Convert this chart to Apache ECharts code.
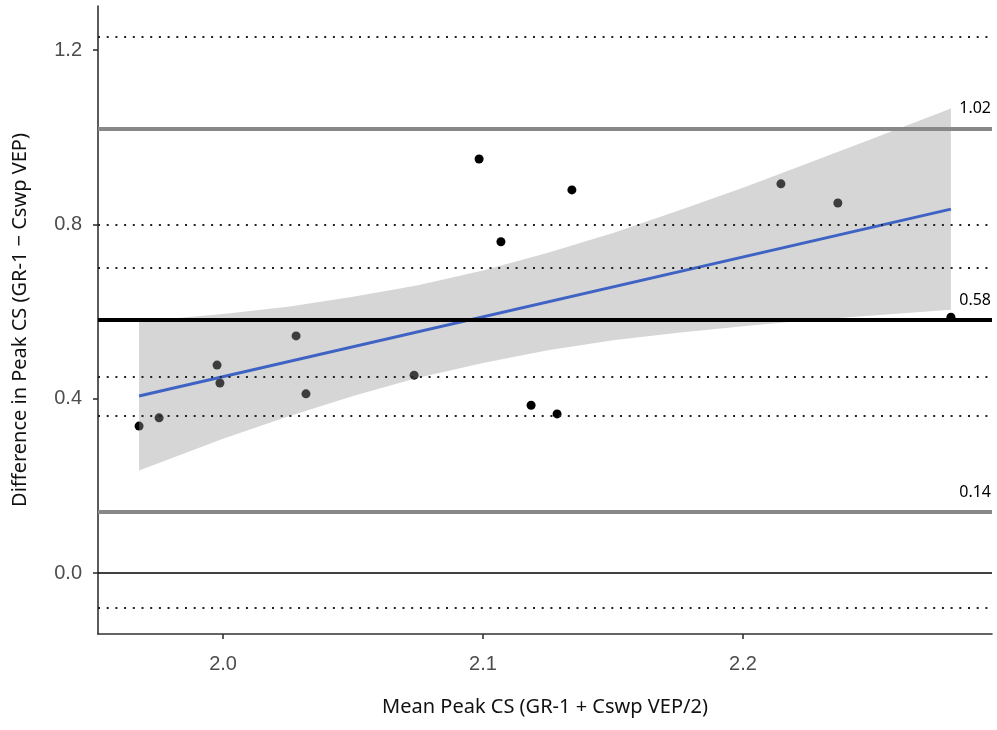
<!DOCTYPE html>
<html>
<head>
<meta charset="utf-8">
<script src="https://cdn.jsdelivr.net/npm/echarts@6/dist/echarts.min.js"></script>
<style>
  html, body { margin: 0; padding: 0; background: #fff; }
  #chart { width: 997px; height: 730px; }
</style>
</head>
<body>
<div id="chart"></div>
<script>
// Bland–Altman style agreement plot: GR-1 vs Cswp VEP peak contrast sensitivity

// Per-subject mean (x) and difference (y)
const meanVals = [1.9677, 1.9754, 1.9977, 1.9988, 2.0281, 2.0319, 2.0735, 2.0985,
                  2.1069, 2.1185, 2.1285, 2.1342, 2.2146, 2.2365, 2.2800];
const diffVals = [0.337, 0.356, 0.477, 0.436, 0.544, 0.411, 0.454, 0.950,
                  0.760, 0.385, 0.365, 0.879, 0.893, 0.849, 0.587];

// Linear trend of difference on mean, with its confidence band
const fitX = [1.9677, 2.2800];
const fitY = [0.406, 0.835];
const bandX = [1.9677, 2.0, 2.025, 2.05, 2.075, 2.1, 2.125, 2.15, 2.175, 2.2, 2.225, 2.25, 2.28];
const bandUpper = [0.577, 0.594, 0.611, 0.634, 0.660, 0.694, 0.735, 0.780, 0.831, 0.884, 0.940, 0.997, 1.066];
const bandLower = [0.235, 0.308, 0.359, 0.406, 0.448, 0.482, 0.511, 0.534, 0.551, 0.566, 0.580, 0.591, 0.604];

// Bias and limits of agreement (labelled), their confidence limits (dotted), zero line
const limitVals = [1.02, 0.14];
const biasVal = 0.58;
const ciVals = [1.2345, 0.80, 0.702, 0.454, 0.358, -0.076];
const zeroVal = 0;

// Axis ticks
const xTicks = [2.0, 2.1, 2.2];
const yTicks = [0.0, 0.4, 0.8, 1.2];

const chart = echarts.init(document.getElementById('chart'), null, { renderer: 'canvas' });

const labelFont = 'Noto Sans';
const axisFont = 'Liberation Sans';

const bandPolygon = bandX.map((x, i) => [x, bandUpper[i]])
  .concat(bandX.slice().reverse().map((x, i) => [x, bandLower[bandX.length - 1 - i]]));

function hLine(v, style) {
  return { yAxis: v, lineStyle: style, label: { show: false } };
}

function valueLabel() {
  return {
    show: true, position: 'insideEndTop', distance: [1, 12],
    formatter: p => p.value.toFixed(2),
    fontFamily: labelFont, fontSize: 16, color: '#000'
  };
}

const option = {
  animation: false,
  backgroundColor: '#ffffff',
  grid: { left: 98, right: 5, top: 6, bottom: 96, containLabel: false },
  xAxis: {
    type: 'value',
    min: 1.9519,
    max: 2.2958,
    name: 'Mean Peak CS (GR-1 + Cswp VEP/2)',
    nameLocation: 'middle',
    nameGap: 63,
    nameTextStyle: { fontFamily: labelFont, fontSize: 20, color: '#111' },
    splitLine: { show: false },
    axisLine: { onZero: false, lineStyle: { color: '#333', width: 1.6 } },
    axisTick: { show: true, length: 5, customValues: xTicks, lineStyle: { color: '#333', width: 1.6 } },
    axisLabel: {
      customValues: xTicks, margin: 20, color: '#4d4d4d', fontSize: 20, fontFamily: axisFont,
      formatter: v => v.toFixed(1)
    }
  },
  yAxis: {
    type: 'value',
    min: -0.14,
    max: 1.301,
    name: 'Difference in Peak CS (GR-1 \u2212 Cswp VEP)',
    nameLocation: 'middle',
    nameGap: 68,
    nameTextStyle: { fontFamily: labelFont, fontSize: 20, color: '#111' },
    splitLine: { show: false },
    axisLine: { onZero: false, lineStyle: { color: '#333', width: 1.6 } },
    axisTick: { show: true, length: 5, customValues: yTicks, lineStyle: { color: '#333', width: 1.6 } },
    axisLabel: {
      customValues: yTicks, margin: 16, color: '#4d4d4d', fontSize: 20, fontFamily: axisFont,
      formatter: v => v.toFixed(1)
    }
  },
  series: [
    {
      name: 'points',
      type: 'scatter',
      z: 2,
      symbol: 'circle',
      symbolSize: 9,
      itemStyle: { color: '#000', opacity: 1 },
      data: meanVals.map((x, i) => [x, diffVals[i]])
    },
    {
      name: 'band',
      type: 'custom',
      z: 3,
      data: [0],
      renderItem: (params, api) => {
        const pts = bandPolygon.map(p => api.coord(p));
        return {
          type: 'polygon',
          shape: { points: pts },
          style: { fill: 'rgba(153,153,153,0.4)', stroke: null }
        };
      }
    },
    {
      name: 'trend',
      type: 'line',
      z: 4,
      symbol: 'none',
      lineStyle: { color: '#3f63c4', width: 3 },
      data: fitX.map((x, i) => [x, fitY[i]])
    },
    {
      name: 'reference lines',
      type: 'line',
      z: 5,
      data: [],
      markLine: {
        silent: true,
        symbol: ['none', 'none'],
        animation: false,
        data: [
          ...ciVals.map(v => hLine(v, { color: '#222', width: 2, type: [2, 6.7], cap: 'butt' })),
          hLine(zeroVal, { color: '#000', width: 1.6, type: 'solid' }),
          ...limitVals.map(v => ({
            yAxis: v,
            lineStyle: { color: '#888', width: 4, type: 'solid' },
            label: valueLabel()
          })),
          {
            yAxis: biasVal,
            lineStyle: { color: '#000', width: 4, type: 'solid' },
            label: valueLabel()
          }
        ]
      }
    }
  ]
};

chart.setOption(option);
</script>
</body>
</html>
